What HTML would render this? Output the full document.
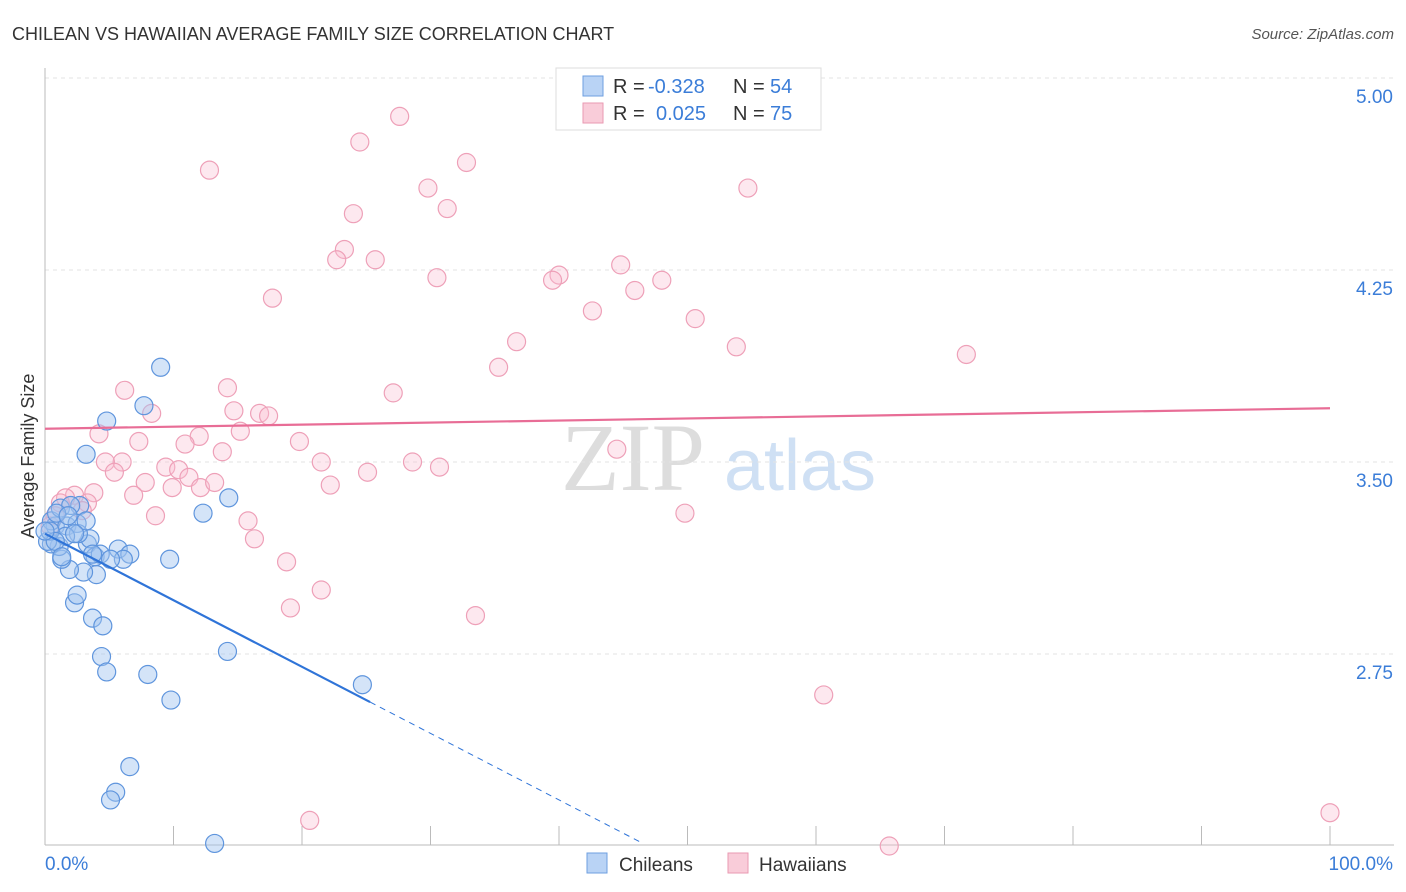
<!DOCTYPE html>
<html><head><meta charset="utf-8"><style>
body{margin:0;background:#fff;font-family:"Liberation Sans",sans-serif}
svg{display:block}
</style></head><body>
<svg id="chart" width="1406" height="892">
<text x="12" y="40" font-size="18" fill="#333">CHILEAN VS HAWAIIAN AVERAGE FAMILY SIZE CORRELATION CHART</text>
<text x="1394" y="39" font-size="15" fill="#555" font-style="italic" text-anchor="end">Source: ZipAtlas.com</text>
<text transform="translate(34,456) rotate(-90)" font-size="18" fill="#333" text-anchor="middle">Average Family Size</text>
<g><text x="633" y="490" font-size="96" fill="#ddd" font-family="Liberation Serif" text-anchor="middle">ZIP</text><text x="800" y="490" font-size="72" fill="#cfe0f4" text-anchor="middle">atlas</text></g>
<g id="grid"></g><g id="marks"></g>
<g>
<rect x="556" y="68" width="265" height="62" fill="#fff" stroke="#ddd"/>
<rect x="583" y="76" width="20" height="20" fill="#b9d3f5" stroke="#6e9fe0"/>
<rect x="583" y="103" width="20" height="20" fill="#f9ccd9" stroke="#e99ab2"/>
<text x="613" y="93" font-size="20" fill="#333">R =</text><text x="648" y="93" font-size="20" fill="#3b7dd8">-0.328</text>
<text x="733" y="93" font-size="20" fill="#333">N =</text><text x="770" y="93" font-size="20" fill="#3b7dd8">54</text>
<text x="613" y="120" font-size="20" fill="#333">R =</text><text x="656" y="120" font-size="20" fill="#3b7dd8">0.025</text>
<text x="733" y="120" font-size="20" fill="#333">N =</text><text x="770" y="120" font-size="20" fill="#3b7dd8">75</text>
</g>
<g>
<rect x="587" y="853" width="20" height="20" fill="#b9d3f5" stroke="#6e9fe0"/><text x="619" y="871" font-size="19" fill="#333">Chileans</text>
<rect x="728" y="853" width="20" height="20" fill="#f9ccd9" stroke="#e99ab2"/><text x="759" y="871" font-size="19" fill="#333">Hawaiians</text>
</g>
<text x="45" y="870" font-size="19" fill="#3b7dd8">0.0%</text>
<text x="1393" y="870" font-size="19" fill="#3b7dd8" text-anchor="end">100.0%</text>
</svg>
<script>
const yTicks=[5.00,4.25,3.50,2.75];
const blueX=[9.0,7.7,4.8,3.2,14.3,12.3,9.7,14.2,24.7,9.8,8.0,6.6,5.5,5.1,13.2,4.4,4.8,3.7,4.5,2.3,2.5,4.0,3.0,1.9,1.3,3.3,5.7,6.6,6.1,3.9,1.1,0.5,0.8,0.5,1.7,2.5,2.7,3.5,2.6,1.6,0.2,1.2,2.0,3.2,0.4,0.8,4.3,3.7,0.9,1.8,1.3,5.1,2.3,0.0];
const blueY=[3.87,3.72,3.66,3.53,3.36,3.30,3.12,2.76,2.63,2.57,2.67,2.31,2.21,2.18,2.01,2.74,2.68,2.89,2.86,2.95,2.98,3.06,3.07,3.08,3.12,3.18,3.16,3.14,3.12,3.13,3.17,3.18,3.25,3.27,3.25,3.26,3.33,3.20,3.22,3.21,3.19,3.32,3.33,3.27,3.23,3.19,3.14,3.14,3.30,3.29,3.13,3.12,3.22,3.23];
const pinkX=[27.6,24.5,32.8,12.8,29.8,54.7,31.3,24.0,23.3,22.7,25.7,44.8,40.0,30.5,39.5,48.0,45.9,17.7,42.6,50.6,36.7,53.8,71.7,35.3,6.2,14.2,27.1,8.3,14.7,16.7,17.4,15.2,4.2,7.3,12.0,10.9,13.8,19.8,6.0,4.7,9.4,10.4,21.5,28.6,30.7,44.5,5.4,11.2,25.1,7.8,9.9,12.1,13.2,22.2,6.9,3.8,2.3,1.6,1.2,3.3,2.9,8.6,15.8,16.3,49.8,18.8,21.5,19.1,33.5,60.6,20.6,65.7,100.0,0.8,0.4];
const pinkY=[4.85,4.75,4.67,4.64,4.57,4.57,4.49,4.47,4.33,4.29,4.29,4.27,4.23,4.22,4.21,4.21,4.17,4.14,4.09,4.06,3.97,3.95,3.92,3.87,3.78,3.79,3.77,3.69,3.70,3.69,3.68,3.62,3.61,3.58,3.60,3.57,3.54,3.58,3.50,3.50,3.48,3.47,3.50,3.50,3.48,3.55,3.46,3.44,3.46,3.42,3.40,3.40,3.42,3.41,3.37,3.38,3.37,3.36,3.34,3.34,3.31,3.29,3.27,3.20,3.30,3.11,3.00,2.93,2.90,2.59,2.10,2.00,2.13,3.29,3.25];
const X0=45,X1=1330,Y5=78;
const sx=v=>X0+(X1-X0)*v/100, sy=v=>Y5+(5-v)*256;
const NS='http://www.w3.org/2000/svg';
const grid=document.getElementById('grid'),marks=document.getElementById('marks');
function mk(tag,at,parent){const e=document.createElementNS(NS,tag);for(const k in at)e.setAttribute(k,at[k]);parent.appendChild(e);return e;}
yTicks.forEach(t=>{
 const l=mk('line',{x1:X0,x2:1394,y1:sy(t),y2:sy(t),stroke:'#e3e3e3','stroke-dasharray':'4,4'},grid);
 
 
 const tx=mk('text',{x:1393,y:sy(t)+25,'font-size':19,fill:'#3b7dd8','text-anchor':'end'},grid);
 tx.textContent=t.toFixed(2);
 
 
});
const ax=mk('line',{x1:X0,x2:X0,y1:68,y2:845,stroke:'#bbb'},grid);


const bx=mk('line',{x1:X0,x2:1394,y1:845,y2:845,stroke:'#bbb'},grid);


for(let i=0;i<=10;i++){const t=mk('line',{x1:sx(i*10),x2:sx(i*10),y1:826,y2:845,stroke:'#bbb'},grid);
 
 }
pinkX.forEach((x,i)=>{const c=mk('circle',{cx:sx(x),cy:sy(pinkY[i]),r:9,fill:'rgba(249,190,208,0.35)',stroke:'#eea0b8','stroke-width':1.2},marks);
 
 });
blueX.forEach((x,i)=>{const c=mk('circle',{cx:sx(x),cy:sy(blueY[i]),r:9,fill:'rgba(160,195,240,0.45)',stroke:'#5f95dd','stroke-width':1.2},marks);
 
 });
const pl=mk('line',{x1:sx(0),y1:sy(3.63),x2:sx(100),y2:sy(3.71),stroke:'#e86d96','stroke-width':2.2},marks);


const b0=3.22,bs=-0.026;
const bl=mk('line',{x1:sx(0),y1:sy(b0),x2:sx(25.3),y2:sy(b0+bs*25.3),stroke:'#2f74d8','stroke-width':2.2},marks);


const bd=mk('line',{x1:sx(25.3),y1:sy(b0+bs*25.3),x2:sx(46.3),y2:sy(b0+bs*46.3),stroke:'#2f74d8','stroke-width':1,'stroke-dasharray':'6,5'},marks);


</script>
</body></html>
